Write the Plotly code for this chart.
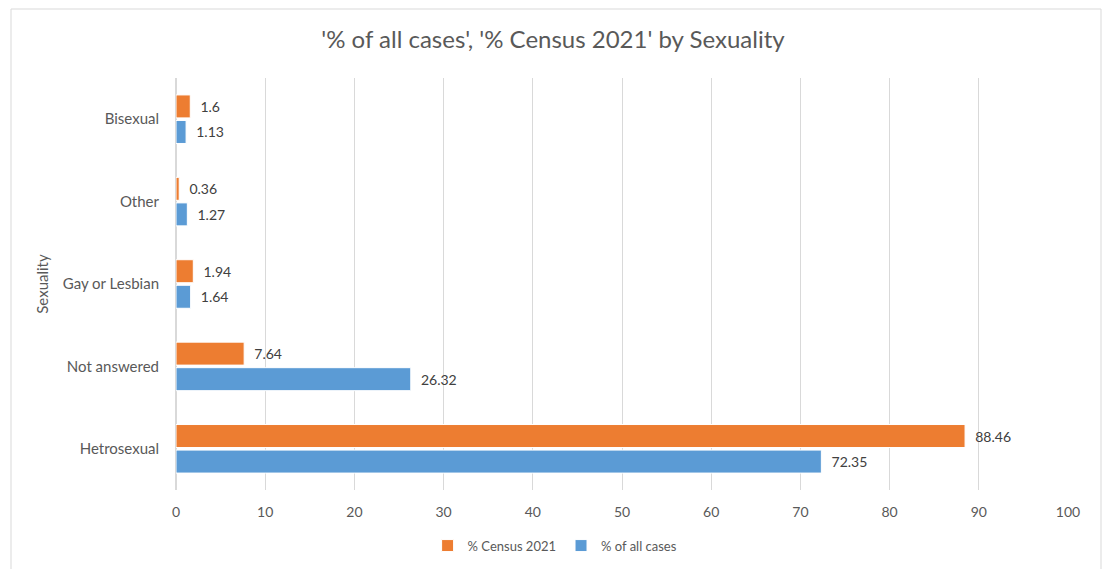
import plotly.graph_objects as go

# Categories listed bottom-to-top as they appear on the vertical axis
categories = ["Hetrosexual", "Not answered", "Gay or Lesbian", "Other", "Bisexual"]
pct_all_cases = [72.35, 26.32, 1.64, 1.27, 1.13]
pct_census_2021 = [88.46, 7.64, 1.94, 0.36, 1.6]
x_ticks = [0, 10, 20, 30, 40, 50, 60, 70, 80, 90, 100]

BLUE = "#5B9BD5"
ORANGE = "#ED7D31"
TEXT = "#595959"
FONT = "Lato, Open Sans, sans-serif"
PAD = "\u00a0\u00a0"  # small gap between bar end and its value label


def bar(values, name, color):
    return go.Bar(
        y=categories, x=values, orientation="h", name=name,
        marker=dict(color=color, line=dict(color="white", width=1)),
        text=[PAD + str(v) for v in values], textposition="outside",
        textfont=dict(color="#404040", size=14, family=FONT), cliponaxis=False,
    )


fig = go.Figure()
fig.add_trace(bar(pct_all_cases, "% of all cases", BLUE))
fig.add_trace(bar(pct_census_2021, "% Census 2021", ORANGE))

fig.update_layout(
    width=1106, height=569,
    paper_bgcolor="white", plot_bgcolor="white",
    font=dict(family=FONT, color=TEXT, size=14),
    title=dict(text="'% of all cases', '% Census 2021' by Sexuality",
               x=0.5, xanchor="center", y=0.93, yanchor="middle",
               font=dict(size=24, color=TEXT, family=FONT)),
    barmode="group", bargap=0.38, bargroupgap=0.1,
    margin=dict(l=176, r=38, t=78, b=79, autoexpand=False),
    showlegend=True,
    legend=dict(orientation="h", x=0.425, xanchor="center", y=-0.135, yanchor="middle",
                traceorder="reversed", font=dict(size=13, color=TEXT, family=FONT),
                itemwidth=30),
    xaxis=dict(range=[0, 100], tickvals=x_ticks, showgrid=True, gridcolor="#D9D9D9",
               gridwidth=1, zeroline=True, zerolinecolor="#D9D9D9", showline=False,
               ticks="", ticklabelstandoff=12, tickfont=dict(size=14, color=TEXT),
               fixedrange=True, automargin=False),
    yaxis=dict(categoryorder="array", categoryarray=categories, showgrid=False,
               ticks="", ticklabelstandoff=16, tickfont=dict(size=15, color=TEXT),
               title=dict(text="Sexuality", font=dict(size=15, color=TEXT), standoff=10),
               showline=False, zeroline=False, automargin=False),
    shapes=[dict(type="rect", xref="paper", yref="paper",
                 x0=(11 - 176) / 892, x1=(1101 - 176) / 892,
                 y0=-0.4, y1=(491 - 10) / 412,
                 line=dict(color="#D9D9D9", width=1), fillcolor="rgba(0,0,0,0)",
                 layer="below")],
)

fig.write_html("out.html")
